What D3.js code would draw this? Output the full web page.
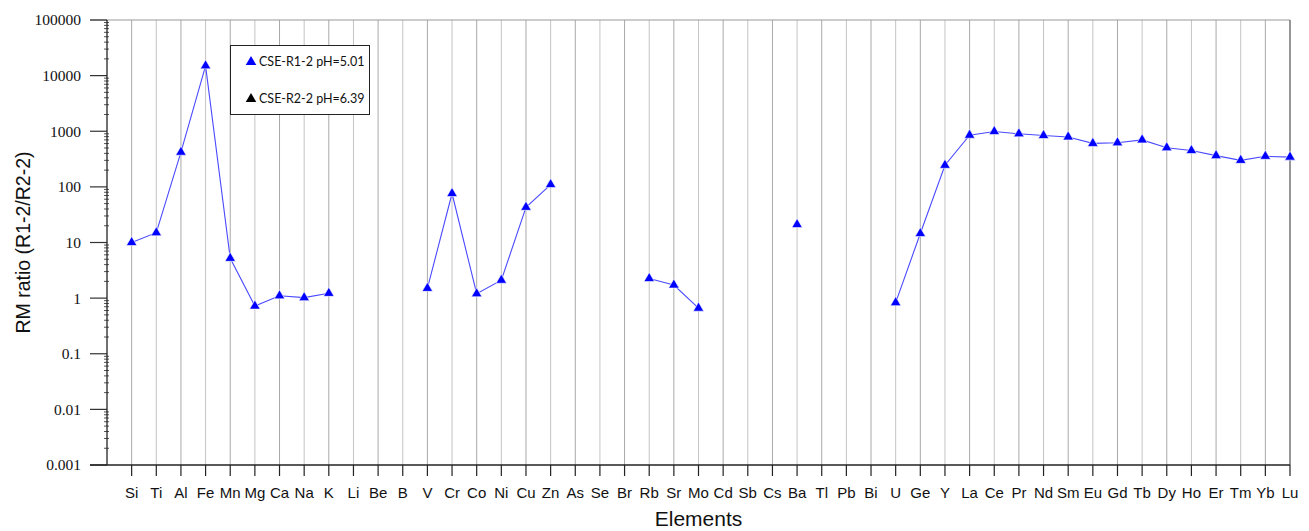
<!DOCTYPE html>
<html>
<head>
<meta charset="utf-8">
<script src="https://cdn.jsdelivr.net/npm/d3@7/dist/d3.min.js"></script>
<style>
  html, body { margin: 0; padding: 0; background: #fff; }
  svg { display: block; }
</style>
</head>
<body>
<svg id="chart" width="1309" height="531"></svg>
<script>
// Element categories along the x axis
const elements = ["Si","Ti","Al","Fe","Mn","Mg","Ca","Na","K","Li","Be","B","V","Cr","Co","Ni","Cu","Zn","As","Se","Br","Rb","Sr","Mo","Cd","Sb","Cs","Ba","Tl","Pb","Bi","U","Ge","Y","La","Ce","Pr","Nd","Sm","Eu","Gd","Tb","Dy","Ho","Er","Tm","Yb","Lu"];

// RM ratio (R1-2/R2-2) for CSE-R1-2 pH=5.01; null = no value
const ratioR1 = [10, 15, 420, 15000, 5.2, 0.72, 1.1, 1.02, 1.22, null, null, null, 1.5, 76, 1.2, 2.1, 43, 110, null, null, null, 2.25, 1.72, 0.66, null, null, null, 21, null, null, null, 0.83, 14.5, 245, 850, 990, 900, 840, 790, 605, 620, 700, 505, 450, 365, 300, 355, 343];

const yTickValues = [0.001, 0.01, 0.1, 1, 10, 100, 1000, 10000, 100000];
const yTickLabels = ["0.001", "0.01", "0.1", "1", "10", "100", "1000", "10000", "100000"];

const legendLabels = ["CSE-R1-2 pH=5.01", "CSE-R2-2 pH=6.39"];
const legendColors = ["#0000ff", "#000000"];

const svg = d3.select("#chart");
const plotL = 107, plotR = 1290, plotT = 20, plotB = 465;

// positions 0..48, first element at 1
const x = d3.scaleLinear().domain([0, elements.length]).range([plotL, plotR]);
const y = d3.scaleLog().domain([0.001, 100000]).range([plotB, plotT]);

// vertical grid lines at each element
svg.append("g").selectAll("line").data(elements).join("line")
  .attr("x1", (d, i) => x(i + 1)).attr("x2", (d, i) => x(i + 1))
  .attr("y1", plotT).attr("y2", plotB)
  .attr("stroke", (d, i) => i % 2 ? "#c4c4c4" : "#a8a8a8")
  .attr("stroke-width", 1);

// top border
svg.append("line").attr("x1", 90).attr("x2", plotR).attr("y1", plotT).attr("y2", plotT)
  .attr("stroke", "#9a9a9a").attr("stroke-width", 1.2);
// right border
svg.append("line").attr("x1", plotR).attr("x2", plotR).attr("y1", plotT).attr("y2", plotB)
  .attr("stroke", "#666").attr("stroke-width", 1.2);

// y axis: major ticks outward, minor ticks across the axis line
const yAxis = svg.append("g").attr("transform", `translate(${plotL},0)`);
const minor = [];
for (let e = -3; e < 5; e++) for (let k = 2; k <= 9; k++) minor.push(k * Math.pow(10, e));
yAxis.selectAll("line.minor").data(minor).join("line").attr("class", "minor")
  .attr("x1", -3).attr("x2", 2).attr("y1", d => y(d)).attr("y2", d => y(d))
  .attr("stroke", "#555").attr("stroke-width", 1);
yAxis.selectAll("line.major").data(yTickValues).join("line").attr("class", "major")
  .attr("x1", -17).attr("x2", 0).attr("y1", d => y(d)).attr("y2", d => y(d))
  .attr("stroke", "#333").attr("stroke-width", 1.2);
yAxis.selectAll("text").data(yTickValues).join("text")
  .attr("x", -26).attr("y", d => y(d)).attr("dy", "0.35em")
  .attr("text-anchor", "end")
  .attr("font-family", "'Liberation Serif', 'Times New Roman', serif").attr("font-size", 15.5)
  .attr("fill", "#111")
  .text((d, i) => yTickLabels[i]);
yAxis.append("line").attr("x1", 0).attr("x2", 0).attr("y1", plotT).attr("y2", plotB)
  .attr("stroke", "#222").attr("stroke-width", 1.3);

// x axis
const xAxis = svg.append("g").attr("transform", `translate(0,${plotB})`);
xAxis.append("line").attr("x1", 90).attr("x2", plotR).attr("y1", 0).attr("y2", 0)
  .attr("stroke", "#222").attr("stroke-width", 1.3);
xAxis.selectAll("line.tick").data(elements).join("line").attr("class", "tick")
  .attr("x1", (d, i) => x(i + 1)).attr("x2", (d, i) => x(i + 1))
  .attr("y1", 0).attr("y2", 11).attr("stroke", "#222").attr("stroke-width", 1.2);
xAxis.selectAll("text").data(elements).join("text")
  .attr("x", (d, i) => x(i + 1)).attr("y", 28)
  .attr("dy", "0.35em").attr("text-anchor", "middle")
  .attr("font-family", "'Liberation Sans', Arial, sans-serif").attr("font-size", 15)
  .attr("fill", "#111").text(d => d);

// axis titles
svg.append("text").attr("x", (plotL + plotR) / 2).attr("y", 519).attr("dy", "0.35em")
  .attr("text-anchor", "middle")
  .attr("font-family", "'Liberation Sans', Arial, sans-serif").attr("font-size", 21)
  .attr("fill", "#111").text("Elements");
svg.append("text").attr("transform", `translate(23,${(plotT + plotB) / 2}) rotate(-90)`)
  .attr("dy", "0.35em").attr("text-anchor", "middle")
  .attr("font-family", "'Liberation Sans', Arial, sans-serif").attr("font-size", 19.5)
  .attr("fill", "#111").text("RM ratio (R1-2/R2-2)");

// series line, broken where values are missing
const pts = ratioR1.map((v, i) => ({ i, v }));
const line = d3.line().defined(d => d.v != null)
  .x(d => x(d.i + 1)).y(d => y(d.v));
svg.append("path").datum(pts).attr("d", line)
  .attr("fill", "none").attr("stroke", "#4a4aff").attr("stroke-width", 1.1);

// triangle markers
const tri = d3.symbol().type(d3.symbolTriangle).size(48);
svg.append("g").selectAll("path").data(pts.filter(d => d.v != null)).join("path")
  .attr("d", tri)
  .attr("transform", d => `translate(${x(d.i + 1)},${y(d.v)})`)
  .attr("fill", "#0000ff").attr("stroke", "#fff").attr("stroke-width", 0.6);

// legend
const lg = svg.append("g");
lg.append("rect").attr("x", 230.5).attr("y", 45.5).attr("width", 139).attr("height", 69)
  .attr("fill", "#fff").attr("stroke", "#222").attr("stroke-width", 1);
legendLabels.forEach((lab, k) => {
  const yy = 62 + k * 37;
  lg.append("path").attr("d", tri).attr("transform", `translate(251,${yy})`)
    .attr("fill", legendColors[k]);
  lg.append("text").attr("x", 259).attr("y", yy).attr("dy", "0.35em")
    .attr("font-family", "Lato, 'Open Sans', sans-serif").attr("font-size", 12.5)
    .attr("fill", "#111").text(lab);
});
</script>
</body>
</html>
